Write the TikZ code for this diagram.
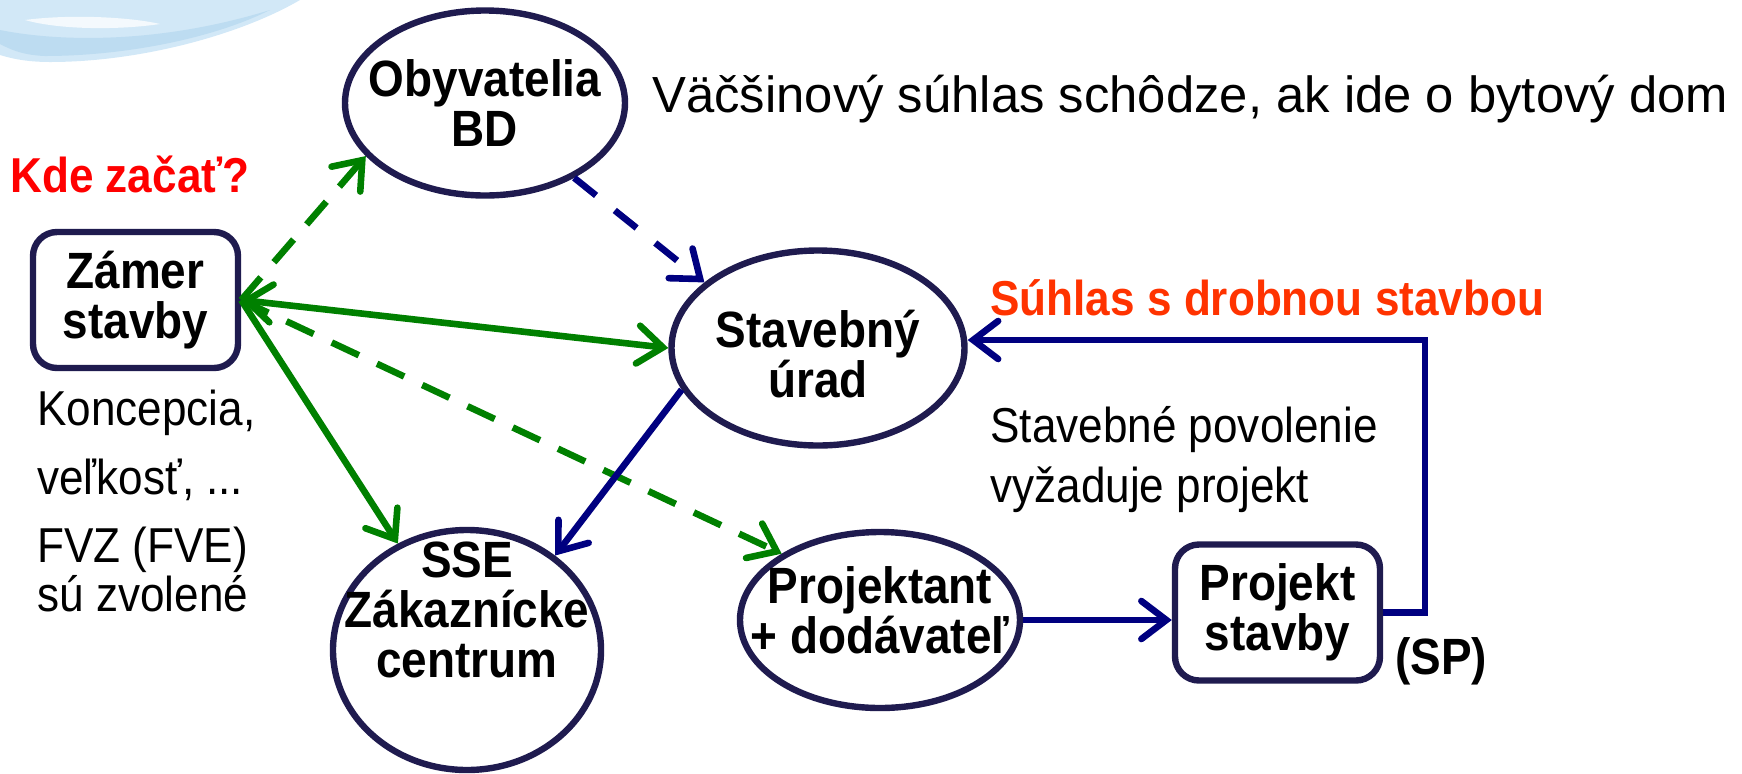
\documentclass[tikz,border=0pt]{standalone}
\usepackage{fontspec}
\setmainfont{Liberation Sans}
\newfontfamily\condbold{Liberation Sans}[FakeStretch=0.9]
\newfontfamily\condreg{Liberation Sans}[FakeStretch=0.9]
\usetikzlibrary{shapes.geometric,arrows.meta}
\definecolor{outl}{HTML}{1F1B4F}
\definecolor{grn}{HTML}{008000}
\definecolor{nvy}{HTML}{000080}
\definecolor{redt}{HTML}{FF0000}
\definecolor{orgt}{HTML}{FF3300}
\definecolor{swa}{HTML}{D2E8F7}
\definecolor{swb}{HTML}{BDDCF1}
\begin{document}
\begin{tikzpicture}[x=0.5pt,y=-0.5pt,
  >={Straight Barb[length=12.5pt,width=19pt,line cap=round]},
  bt/.style={font=\condbold\bfseries\fontsize{25.5}{25}\selectfont, align=center, text=black},
  rt/.style={font=\condreg\fontsize{24.5}{30}\selectfont, inner sep=0pt, anchor=base west},
  ell/.style={draw=outl, line width=3.2pt, ellipse, inner sep=0pt, fill=white},
  rbox/.style={draw=outl, line width=3.2pt, rounded corners=12pt, fill=white,
     minimum width=102.5pt, minimum height=68pt, inner sep=0pt, bt},
  gs/.style={draw=grn, line width=3.3pt},
  gd/.style={gs, dash pattern=on 15pt off 10pt},
  ns/.style={draw=nvy, line width=3.3pt},
  nd/.style={ns, dash pattern=on 14pt off 12pt}]
\path[use as bounding box] (0,0) rectangle (1742,773);

% background swirl
\fill[swa] (0,0) -- (300,0) .. controls (240,35) and (140,62) .. (50,62)
   .. controls (25,62) and (10,58) .. (0,55) -- cycle;
\fill[swb] (0,30) .. controls (60,42) and (160,44) .. (270,10)
   .. controls (210,40) and (120,56) .. (45,56) .. controls (20,55) and (8,48) .. (0,44) -- cycle;
\fill[white!75!swa] (25,20) .. controls (70,14) and (130,17) .. (160,24)
   .. controls (120,30) and (60,30) .. (25,20) -- cycle;

% nodes
\node[rbox] (zamer) at (135.5,300) {Zámer\\stavby};
\node[rbox] (projekt) at (1277.5,612.5) {Projekt\\stavby};
\node[ell, minimum width=140pt, minimum height=92.5pt,
      label={[bt]center:{Obyvatelia\\BD}}] (obyv) at (485,103) {};
\node[ell, minimum width=146.5pt, minimum height=97.5pt,
      label={[bt, yshift=-3pt]center:{Stavebný\\úrad}}] (stav) at (818,348) {};
\node[ell, minimum width=134pt, minimum height=120pt,
      label={[bt, yshift=20pt]center:{SSE\\Zákaznícke\\centrum}}] (sse) at (467,650) {};
\node[ell, minimum width=140pt, minimum height=88pt,
      label={[bt, yshift=5pt]center:{Projektant\\+ dodávateľ}}] (proj) at (880,620) {};

% free texts
\node[bt, text=redt, inner sep=0pt, anchor=base west, font=\condbold\bfseries\fontsize{24.5}{25}\selectfont] (kde) at (10,192) {Kde začať?};
\node[bt, text=orgt, inner sep=0pt, anchor=base west, font=\condbold\bfseries\fontsize{24.5}{25}\selectfont] (suhl) at (990,315) {Súhlas s drobnou stavbou};
\node[bt, inner sep=0pt, anchor=base west] (sp) at (1395,674) {(SP)};
\node[rt, font=\fontsize{25.4}{30}\selectfont] (vac) at (652,112) {Väčšinový súhlas schôdze, ak ide o bytový dom};
\node[rt] (k1) at (37,425) {Koncepcia,};
\node[rt] (k2) at (37,494) {veľkosť, ...};
\node[rt] (k3) at (37,562) {FVZ (FVE)};
\node[rt] (k4) at (37,611) {sú zvolené};
\node[rt] (sp1) at (990,442) {Stavebné povolenie};
\node[rt] (sp2) at (990,502) {vyžaduje projekt};

% connectors
\draw[gd, ->] (zamer.east) -- (obyv.204);
\draw[gs, <->] (zamer.east) -- (stav.west);
\draw[gs, ->] (zamer.east) -- (sse.123);
\draw[gd, ->] (zamer.east) -- (proj.146);
\draw[nd, ->] (obyv.320) -- (stav.150);
\draw[ns, ->] (stav.197) -- (sse.47);
\draw[ns, ->] (proj.east) -- (proj.east -| projekt.west);
\coordinate (corner) at (1425,340);
\draw[ns, ->] (projekt.east) -| (corner) -- (corner -| stav.east);
\end{tikzpicture}
\end{document}
